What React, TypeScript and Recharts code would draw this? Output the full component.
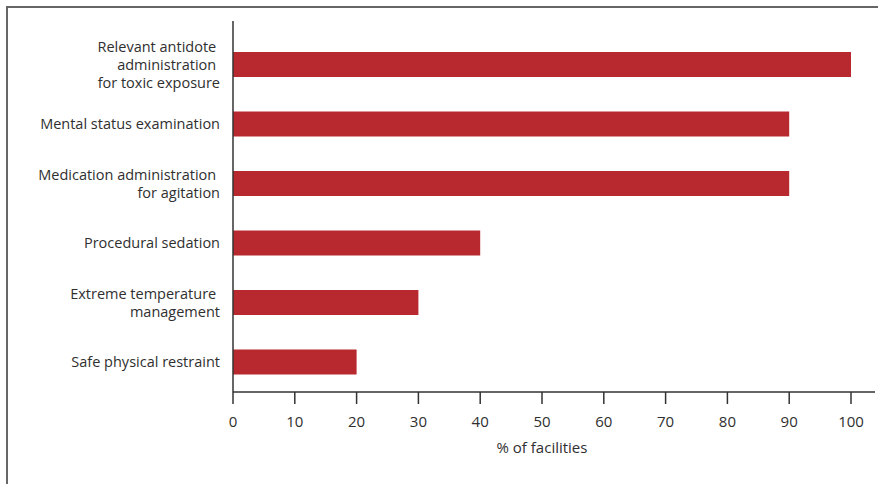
import React from 'react';
import { BarChart, Bar, XAxis, YAxis, Label } from 'recharts';

const categories = [
  'Relevant antidote \nadministration \nfor toxic exposure',
  'Mental status examination',
  'Medication administration \nfor agitation',
  'Procedural sedation',
  'Extreme temperature \nmanagement',
  'Safe physical restraint',
];
const facilityPct = [100, 90, 90, 40, 30, 20];
const xTicks = [0, 10, 20, 30, 40, 50, 60, 70, 80, 90, 100];

const data = categories.map((name, i) => ({ name, value: facilityPct[i] }));

const FONT = '"Open Sans", sans-serif';
const TEXT = '#2f2f2f';
const BAR = '#b7282f';

const CategoryTick = (props: any) => {
  const { x, y, payload } = props;
  const lines: string[] = String(payload.value).split('\n');
  const lh = 18;
  const start = y - ((lines.length - 1) * lh) / 2;
  const tx = x - 5;
  return (
    <text
      x={tx}
      y={start}
      textAnchor="end"
      fontFamily={FONT}
      fontSize={14.5}
      fill={TEXT}
      style={{ whiteSpace: 'pre' }}
    >
      {lines.map((l, i) => (
        <tspan key={i} x={tx} y={start + i * lh} dy="0.35em">
          {l}
        </tspan>
      ))}
    </text>
  );
};

export default function App() {
  return (
    <div
      style={{
        position: 'absolute',
        left: 0,
        top: 0,
        width: 878,
        height: 484,
        background: '#fff',
        overflow: 'hidden',
      }}
    >
      <div
        style={{
          position: 'absolute',
          left: 6,
          top: 6,
          width: 900,
          height: 500,
          borderTop: '2px solid #666',
          borderLeft: '2px solid #666',
        }}
      />
      <BarChart
        width={878}
        height={484}
        data={data}
        layout="vertical"
        margin={{ top: 21, right: 3, left: 0, bottom: 32 }}
        style={{ position: 'absolute', left: 0, top: 0 }}
      >
        <XAxis
          type="number"
          domain={[0, 100]}
          ticks={xTicks}
          interval={0}
          height={60}
          padding={{ left: 0, right: 24 }}
          stroke="#333"
          strokeWidth={1.5}
          tickSize={12}
          tickMargin={12}
          tick={{ fill: TEXT, fontSize: 15, fontFamily: FONT }}
        >
          <Label
            value="% of facilities"
            position="insideBottom"
            offset={-1}
            dx={-12}
            fill={TEXT}
            fontSize={15}
            fontFamily={FONT}
          />
        </XAxis>
        <YAxis
          type="category"
          dataKey="name"
          width={233}
          padding={{ top: 14, bottom: 0 }}
          stroke="#333"
          strokeWidth={1.5}
          tickLine={false}
          interval={0}
          tick={<CategoryTick />}
        />
        <Bar dataKey="value" fill={BAR} barSize={25} isAnimationActive={false} />
      </BarChart>
    </div>
  );
}
